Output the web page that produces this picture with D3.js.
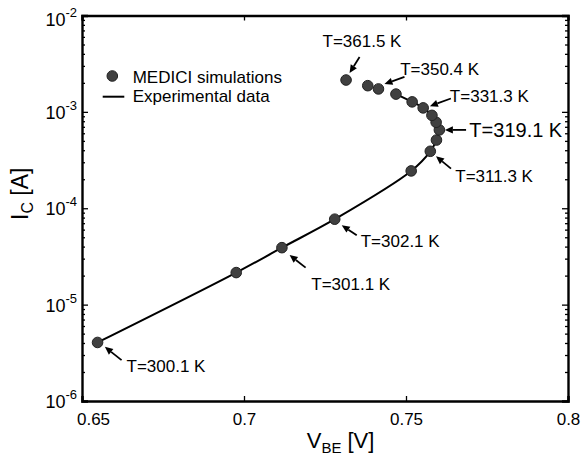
<!DOCTYPE html>
<html>
<head>
<meta charset="utf-8">
<script src="https://cdn.jsdelivr.net/npm/d3@7"></script>
<style>
  html, body { margin: 0; padding: 0; background: #fff; }
  svg { display: block; font-family: "Liberation Sans", Arial, sans-serif; }
</style>
</head>
<body>
<svg id="chart" width="584" height="462"></svg>
<script>
// MEDICI simulation points (V_BE in volts, I_C in amperes)
const simV = [0.6548, 0.6976, 0.7117, 0.7280, 0.7516, 0.7575, 0.7594, 0.7603, 0.7593, 0.7580, 0.7553, 0.7519, 0.7469, 0.7415, 0.7382, 0.7315];
const simI = [4.05e-6, 2.15e-5, 3.9e-5, 7.7e-5, 2.44e-4, 3.9e-4, 5.1e-4, 6.5e-4, 7.8e-4, 9.2e-4, 1.10e-3, 1.27e-3, 1.53e-3, 1.73e-3, 1.87e-3, 2.14e-3];

// Experimental curve
const expV = [0.6548, 0.6976, 0.7117, 0.7280, 0.7516, 0.7575, 0.7594, 0.7603, 0.7593, 0.7580, 0.7553, 0.7519, 0.7469];
const expI = [4.05e-6, 2.15e-5, 3.9e-5, 7.7e-5, 2.44e-4, 3.9e-4, 5.1e-4, 6.5e-4, 7.8e-4, 9.2e-4, 1.10e-3, 1.27e-3, 1.53e-3];

// Temperature annotations: label text and the simulation point it refers to
const annoText  = ["T=300.1 K", "T=301.1 K", "T=302.1 K", "T=311.3 K", "T=319.1 K", "T=331.3 K", "T=350.4 K", "T=361.5 K"];
const annoPoint = [0, 2, 3, 5, 7, 10, 13, 15];

// Axis ticks
const xTicks = [0.65, 0.7, 0.75, 0.8];
const xTickLabels = ["0.65", "0.7", "0.75", "0.8"];
const yExponents = [-6, -5, -4, -3, -2];

// Layout of each annotation relative to its point (pixels): arrow head, arrow tail, text origin, font size
const annoLayout = [
  { hx: 7.3, hy: 4.4,  tx: 24,   ty: 17.7, lx: 29,   ly: 29.7, fs: 17 },
  { hx: 7.7, hy: 7.3,  tx: 23.7, ty: 20,   lx: 29.4, ly: 42.3, fs: 17 },
  { hx: 7,   hy: 6,    tx: 22,   ty: 16,   lx: 26,   ly: 28,   fs: 17 },
  { hx: 5.7, hy: 5,    tx: 20.7, ty: 17.3, lx: 25,   ly: 31,   fs: 17 },
  { hx: 5.5, hy: 0,    tx: 26.7, ty: 0,    lx: 30,   ly: 7,    fs: 20 },
  { hx: 6.7, hy: -1.7, tx: 27.7, ty: -9.4, lx: 26.7, ly: -5.7, fs: 17 },
  { hx: 6,   hy: -5,   tx: 26,   ty: -12,  lx: 21.7, ly: -14,  fs: 17 },
  { hx: 3.5, hy: -7,   tx: 13.5, ty: -23,  lx: -23.5, ly: -33, fs: 17 }
];

const svg = d3.select("#chart");
const m = { left: 82, right: 568, top: 15.5, bottom: 401 };

const x = d3.scaleLinear().domain([0.65, 0.8]).range([m.left, m.right]);
const y = d3.scaleLog().domain([1e-6, 1e-2]).range([m.bottom, m.top]);

// Minor ticks for the log axis
const minorY = [];
for (let e = -6; e < -2; e++) for (let k = 2; k <= 9; k++) minorY.push(k * Math.pow(10, e));
const majorY = yExponents.map(e => Math.pow(10, e));

const g = svg.append("g");

// Left axis with tick labels
const leftAxis = g.append("g").attr("transform", `translate(${m.left},0)`)
  .call(d3.axisLeft(y).tickValues(majorY).tickSize(-6).tickPadding(5).tickFormat(""));
leftAxis.selectAll(".tick text").remove();
leftAxis.selectAll(".tick").each(function(d, i) {
  const t = d3.select(this).append("text")
    .attr("x", -5).attr("dy", i === majorY.length - 1 ? "0.55em" : "0.36em")
    .attr("text-anchor", "end").attr("fill", "#000")
    .style("font-size", "18px");
  t.append("tspan").text("10");
  t.append("tspan").attr("dy", -9).style("font-size", "13px").text(String(yExponents[i]));
});
g.append("g").attr("transform", `translate(${m.left},0)`)
  .call(d3.axisLeft(y).tickValues(minorY).tickSize(-3).tickFormat(""))
  .call(s => s.select(".domain").remove());

// Right axis (ticks only)
g.append("g").attr("transform", `translate(${m.right},0)`)
  .call(d3.axisRight(y).tickValues(majorY).tickSize(-6).tickFormat(""));
g.append("g").attr("transform", `translate(${m.right},0)`)
  .call(d3.axisRight(y).tickValues(minorY).tickSize(-3).tickFormat(""))
  .call(s => s.select(".domain").remove());

// Bottom axis with labels
const bottomAxis = g.append("g").attr("transform", `translate(0,${m.bottom})`)
  .call(d3.axisBottom(x).tickValues(xTicks).tickSize(-5).tickPadding(12)
    .tickFormat((d, i) => xTickLabels[i]));
bottomAxis.selectAll(".tick text").style("font-size", "17px").attr("fill", "#000")
  .attr("dx", (d, i) => i === 0 ? "11px" : "0");

// Top axis (ticks only)
g.append("g").attr("transform", `translate(0,${m.top})`)
  .call(d3.axisTop(x).tickValues(xTicks).tickSize(-5).tickFormat(""));

g.selectAll(".domain").attr("stroke", "#000").attr("stroke-width", 2.4);
g.selectAll(".tick line").attr("stroke", "#000").attr("stroke-width", 1.3);

// Experimental curve
const line = d3.line().x(i => x(expV[i])).y(i => y(expI[i])).curve(d3.curveCatmullRom.alpha(0.5));
svg.append("path")
  .attr("d", line(d3.range(expV.length)))
  .attr("fill", "none").attr("stroke", "#000").attr("stroke-width", 2);

// Simulation markers
svg.append("g").selectAll("circle")
  .data(d3.range(simV.length))
  .join("circle")
  .attr("cx", i => x(simV[i])).attr("cy", i => y(simI[i])).attr("r", 5.3)
  .attr("fill", "#404040").attr("stroke", "#222").attr("stroke-width", 1);

// Annotations with arrows
const ann = svg.append("g");
annoText.forEach((txt, k) => {
  const p = annoPoint[k], L = annoLayout[k];
  const px = x(simV[p]), py = y(simI[p]);
  const hx = px + L.hx, hy = py + L.hy, tx = px + L.tx, ty = py + L.ty;
  const ang = Math.atan2(hy - ty, hx - tx);
  const len = 8, hw = 3.6;
  const bx = hx - len * Math.cos(ang), by = hy - len * Math.sin(ang);
  ann.append("line").attr("x1", tx).attr("y1", ty).attr("x2", bx).attr("y2", by)
    .attr("stroke", "#000").attr("stroke-width", 1.8);
  const pts = [
    [hx, hy],
    [bx + hw * Math.sin(ang), by - hw * Math.cos(ang)],
    [bx - hw * Math.sin(ang), by + hw * Math.cos(ang)]
  ];
  ann.append("polygon").attr("points", pts.map(q => q.join(",")).join(" ")).attr("fill", "#000");
  ann.append("text").attr("x", px + L.lx).attr("y", py + L.ly)
    .style("font-size", L.fs + "px").attr("fill", "#000").text(txt);
});

// Legend
const leg = svg.append("g");
leg.append("circle").attr("cx", 112.3).attr("cy", 76).attr("r", 5.3)
  .attr("fill", "#404040").attr("stroke", "#222");
leg.append("text").attr("x", 132.7).attr("y", 82.5).style("font-size", "17px").text("MEDICI simulations");
leg.append("line").attr("x1", 102.7).attr("x2", 124.3).attr("y1", 96.7).attr("y2", 96.7)
  .attr("stroke", "#000").attr("stroke-width", 2);
leg.append("text").attr("x", 132.7).attr("y", 101.5).style("font-size", "17px").text("Experimental data");

// Axis titles
const xt = svg.append("text").attr("x", 306.7).attr("y", 448).style("font-size", "22px");
xt.append("tspan").text("V");
xt.append("tspan").attr("dy", 5).style("font-size", "15px").text("BE");
xt.append("tspan").attr("dy", -5).text(" [V]");

const yt = svg.append("text").attr("transform", "translate(28,220) rotate(-90)").style("font-size", "23px");
yt.append("tspan").text("I");
yt.append("tspan").attr("dy", 5).style("font-size", "16px").text("C");
yt.append("tspan").attr("dy", -5).text(" [A]");
</script>
</body>
</html>
